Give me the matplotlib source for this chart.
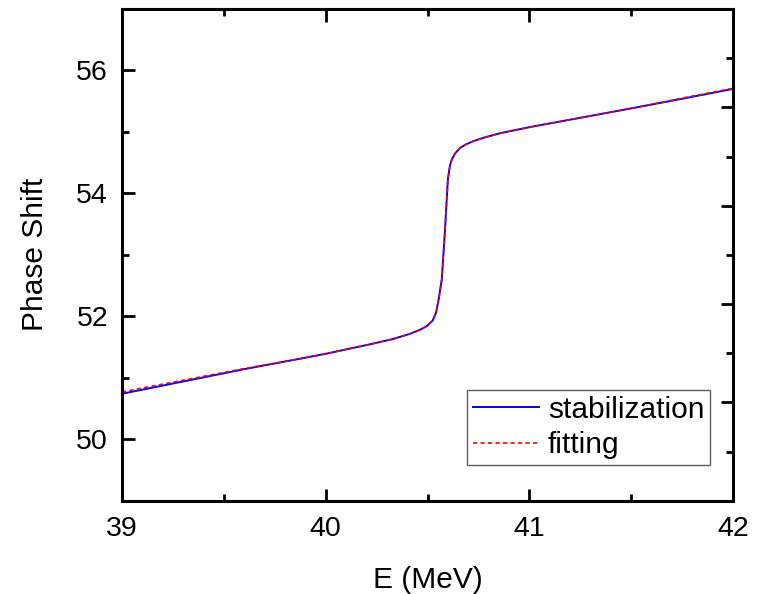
import numpy as np
import matplotlib
matplotlib.use("Agg")
from matplotlib import pyplot as plt
from matplotlib.ticker import MultipleLocator

plt.rcParams['font.family'] = ['Liberation Sans', 'DejaVu Sans']

# values
energy = [39.0, 39.3, 39.6, 39.874, 40.0, 40.218, 40.33, 40.414, 40.46, 40.497, 40.525, 40.542,
          40.556, 40.570, 40.586, 40.600, 40.610, 40.619, 40.635, 40.66, 40.69,
          40.725, 40.78, 40.857, 41.02, 41.25, 41.511, 41.75, 42.0]
stabilization = [50.74, 50.94, 51.14, 51.31, 51.39, 51.545, 51.63, 51.715, 51.775, 51.842, 51.93, 52.06,
                 52.30, 52.60, 53.415, 54.23, 54.45, 54.55, 54.65, 54.74, 54.80,
                 54.85, 54.91, 54.98, 55.09, 55.23, 55.39, 55.54, 55.70]
fitting = [50.77, 50.96, 51.15, 51.31, 51.39, 51.545, 51.63, 51.715, 51.775, 51.842, 51.93, 52.06,
           52.30, 52.60, 53.415, 54.23, 54.45, 54.55, 54.65, 54.74, 54.80,
           54.85, 54.91, 54.98, 55.09, 55.23, 55.39, 55.55, 55.71]

fig = plt.figure(figsize=(7.57, 5.94), dpi=100)
ax = fig.add_axes([0.1612, 0.1571, 0.8071, 0.8277])

ax.plot(energy, stabilization, color='#0000ff', lw=1.4, label='stabilization')
ax.plot(energy, fitting, color='#ff0000', lw=1.2, ls=(0, (2.5, 2)), label='fitting')

ax.set_xlim(39, 42)
ax.set_ylim(49, 57)
ax.xaxis.set_major_locator(MultipleLocator(1))
ax.xaxis.set_minor_locator(MultipleLocator(0.5))
ax.yaxis.set_major_locator(MultipleLocator(2))
ax.yaxis.set_minor_locator(MultipleLocator(1))
ax.tick_params(which='both', direction='in', top=True, right=False, width=2.0, labelsize=20.5)
ax.tick_params(which='major', length=9)
ax.tick_params(which='minor', length=5)
ax.tick_params(axis='x', pad=11)
ax.tick_params(axis='y', pad=10)
for s in ax.spines.values():
    s.set_linewidth(2.2)

# right side ticks in the original follow their own scale
rax = ax.twinx()
rax.set_ylim(0, 10)
rax.yaxis.set_major_locator(MultipleLocator(2))
rax.yaxis.set_minor_locator(MultipleLocator(1))
rax.tick_params(which='both', direction='in', width=2.0, labelright=False)
rax.tick_params(which='major', length=9)
rax.tick_params(which='minor', length=5)

ax.set_xlabel('E (MeV)', fontsize=21.5, labelpad=17)
ax.set_ylabel('Phase Shift', fontsize=21.5, labelpad=20)

leg = ax.legend(loc='lower right', bbox_to_anchor=(0.963, 0.072), fontsize=21.5,
                frameon=True, fancybox=False, edgecolor='#333333',
                handlelength=2.2, handletextpad=0.3, borderpad=0.2,
                labelspacing=0.25, borderaxespad=0)
leg.get_frame().set_linewidth(1.0)

fig.savefig('out.png', dpi=100)
